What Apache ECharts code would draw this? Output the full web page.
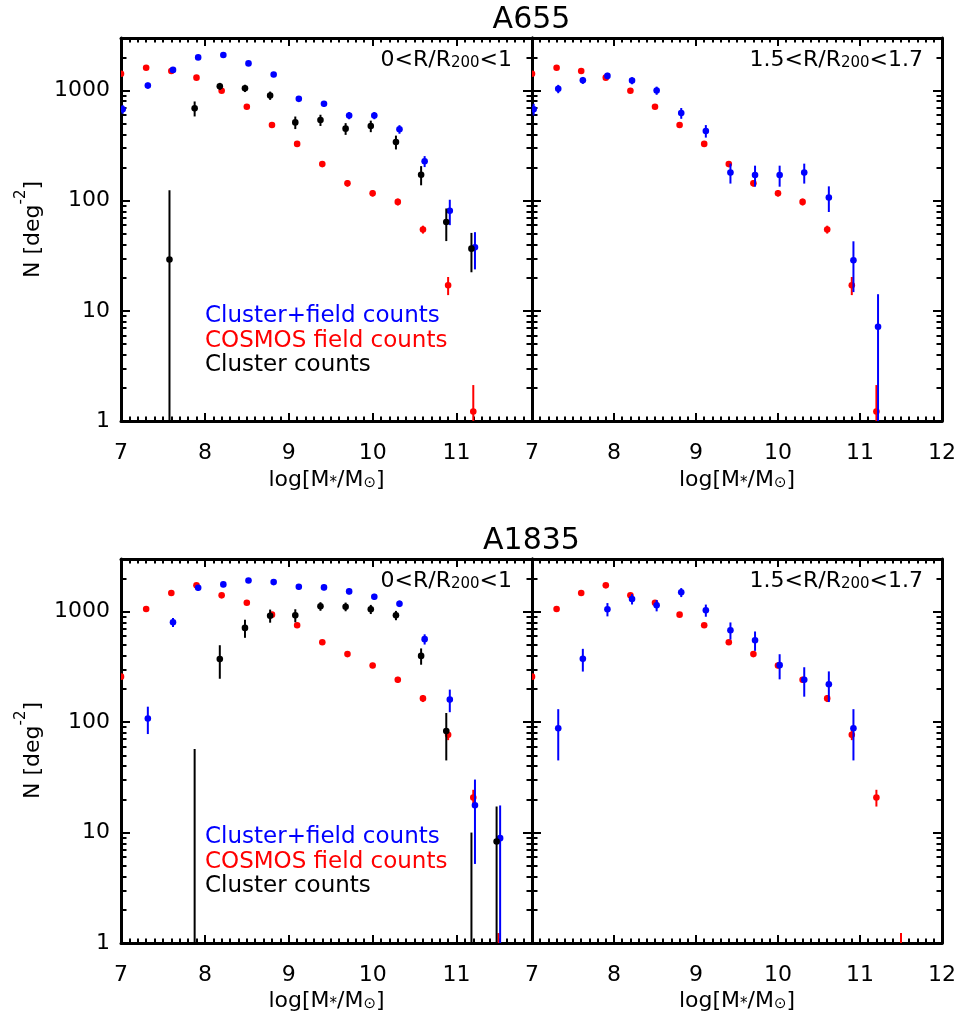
<!DOCTYPE html>
<html>
<head>
<meta charset="utf-8">
<script src="https://cdn.jsdelivr.net/npm/echarts@6/dist/echarts.min.js"></script>
<style>
  html, body { margin: 0; padding: 0; background: #ffffff; }
  #chart { width: 967px; height: 1020px; }
</style>
</head>
<body>
<div id="chart"></div>
<script>
// Stellar mass bins (log M*/Msun)
const massBins = [7.0, 7.3, 7.6, 7.9, 8.2, 8.5, 8.8, 9.1, 9.4, 9.7, 10.0, 10.3, 10.6, 10.9, 11.2, 11.5];

// Tick labels
const xTickLabelsLeft = [7, 8, 9, 10, 11];
const xTickLabelsRight = [7, 8, 9, 10, 11, 12];
const yTickLabels = [1, 10, 100, 1000];

// A655 -- COSMOS field counts (deg^-2)
const a655Field = [1420, 1610, 1505, 1310, 995, 712, 486, 328, 215, 144, 117, 97.5, 54.8, 17.1, 1.22, null];
const a655FieldErr = [40, 42, 40, 36, 30, 25, 20, 16, 12, 10, 8, 7, 4.5, 3.2, 0.9, null];
// A655 -- 0 < R/R200 < 1
const a655InnerTotal = [676, 1110, 1540, 2000, 2100, 1765, 1400, 841, 758, 594, 594, 445, 228, 81, 37.8, null];
const a655InnerTotalErr = [60, 70, 80, 95, 95, 85, 75, 46, 45, 45, 45, 40, 26, 21, 14, null];
const a655InnerCluster = [null, null, 29.3, 689, 1094, 1049, 901, 514, 540, 451, 476, 341, 172, 64, 36.7, null];
const a655InnerClusterErr = [null, null, 95, 107, 80, 80, 78, 67, 63, 55, 57, 49, 34, 21, 14.3, null];
// A655 -- 1.5 < R/R200 < 1.7
const a655OuterTotal = [676, 1036, 1239, 1358, 1231, 1000, 624, 430, 180, 171, 171, 180, 107, 28.8, 7.16, null];
const a655OuterTotalErr = [82, 90, 90, 90, 90, 85, 70, 56, 37, 37, 37, 37, 28, 14, 7, null];

// A1835 -- COSMOS field counts (deg^-2)
const a1835Field = [258, 1058, 1475, 1731, 1406, 1205, 940, 753, 529, 413, 326, 242, 164, 76.7, 20.8, 0.6];
const a1835FieldErr = [15, 35, 40, 45, 40, 36, 32, 28, 23, 20, 18, 15, 12, 8, 3.6, 0.63];
// A1835 -- 0 < R/R200 < 1
const a1835InnerTotal = [null, 108, 802, 1648, 1767, 1919, 1854, 1682, 1660, 1527, 1366, 1181, 564, 160, 17.7, 8.9];
const a1835InnerTotalErr = [null, 30, 75, 100, 100, 100, 100, 95, 95, 90, 85, 80, 60, 37, 12.5, 8.7];
const a1835InnerCluster = [null, null, null, -83, 372, 713, 920, 927, 1119, 1109, 1052, 927, 398, 83, -3, 8.3];
const a1835InnerClusterErr = [null, null, null, 140, 125, 133, 125, 125, 100, 100, 100, 90, 67, 38, 13, 8.9];
// A1835 -- 1.5 < R/R200 < 1.7
const a1835OuterTotal = [null, 88, 374, 1052, 1302, 1142, 1496, 1030, 679, 552, 328, 242, 220, 88, null, null];
const a1835OuterTotalErr = [null, 43, 87, 145, 140, 135, 140, 130, 120, 110, 84, 72, 68, 43, null, null];

// ---------------------------------------------------------------------
const FONT = 'DejaVu Sans';
const BLUE = '#0000ff', RED = '#ff0000', BLACK = '#000000';
const DX_TOTAL = 0.02;     // small horizontal shift so overlapping series stay visible
const DX_CLUSTER = -0.022;
const Y_MIN = 1, Y_MAX = 3000;
const LOG_MAX = Math.log10(Y_MAX);

function rows(values, errors, dx) {
  const out = [];
  massBins.forEach((m, i) => {
    if (values[i] !== null) out.push([m + dx, values[i], errors[i]]);
  });
  return out;
}

// error bar plus filled dot; negative counts only show the part of the bar above zero
function errorDot(color) {
  return function (params, api) {
    const x = api.value(0), n = api.value(1), e = api.value(2);
    const hi = n + e;
    if (!(hi > 0)) return null;
    const lo = n - e > 0 ? n - e : 0.05;
    const pHi = api.coord([x, hi]);
    const pLo = api.coord([x, lo]);
    const children = [{
      type: 'line',
      shape: { x1: pHi[0], y1: pHi[1], x2: pLo[0], y2: pLo[1] },
      style: { stroke: color, lineWidth: 2 }
    }];
    if (n > 0) {
      const p = api.coord([x, n]);
      children.push({ type: 'circle', shape: { cx: p[0], cy: p[1], r: 3.3 }, style: { fill: color } });
    }
    return { type: 'group', children: children };
  };
}

const grids = [
  { left: 121, top: 38, width: 411, height: 383 },
  { left: 532, top: 38, width: 410, height: 383 },
  { left: 121, top: 559, width: 411, height: 384 },
  { left: 532, top: 559, width: 410, height: 384 }
];

const axisLineStyle = { color: BLACK, width: 3 };
const tickLineStyle = { color: BLACK, width: 2 };

function minorX(max) {
  const v = [];
  for (let k = 71; k <= Math.round(max * 10); k++) if (k % 10 !== 0) v.push(k / 10);
  return v;
}
const minorY = [];
yTickLabels.forEach(dec => {
  for (let m = 2; m <= 9; m++) if (m * dec < Y_MAX) minorY.push(Math.log10(m * dec));
});

function xAxesFor(gi, max, labels) {
  const common = { gridIndex: gi, type: 'value', min: 7, max: max, splitLine: { show: false } };
  const minor = minorX(max);
  const major = (pos, showLabel) => Object.assign({}, common, {
    position: pos,
    axisLine: { show: true, onZero: false, lineStyle: axisLineStyle },
    axisTick: { show: true, inside: true, length: 8, customValues: labels, lineStyle: tickLineStyle },
    axisLabel: showLabel ? {
      show: true, customValues: labels, margin: 21, color: BLACK,
      fontFamily: FONT, fontSize: 22
    } : { show: false }
  });
  const small = pos => Object.assign({}, common, {
    position: pos,
    axisLine: { show: false, onZero: false },
    axisTick: { show: true, inside: true, length: 4.5, customValues: minor, lineStyle: tickLineStyle },
    axisLabel: { show: false }
  });
  return [major('bottom', true), small('bottom'), major('top', false), small('top')];
}

function yAxesFor(gi, showLabels) {
  const major = (pos, showLabel) => ({
    gridIndex: gi, type: 'log', logBase: 10, min: Y_MIN, max: Y_MAX, position: pos,
    splitLine: { show: false },
    axisLine: { show: true, onZero: false, lineStyle: axisLineStyle },
    axisTick: { show: true, inside: true, length: 9, lineStyle: tickLineStyle },
    axisLabel: showLabel ? {
      show: true, margin: 11, color: BLACK, fontFamily: FONT, fontSize: 22,
      showMinLabel: true, showMaxLabel: false,
      formatter: v => {
        const r = Math.round(v);
        return yTickLabels.indexOf(r) >= 0 ? String(r) : '';
      }
    } : { show: false }
  });
  const small = pos => ({
    gridIndex: gi, type: 'value', min: 0, max: LOG_MAX, position: pos,
    splitLine: { show: false },
    axisLine: { show: false, onZero: false },
    axisTick: { show: true, inside: true, length: 5.5, customValues: minorY, lineStyle: tickLineStyle },
    axisLabel: { show: false }
  });
  return [major('left', showLabels), small('left'), major('right', false), small('right')];
}

const panels = [
  { max: 11.9, labels: xTickLabelsLeft, yLabels: true,
    field: [a655Field, a655FieldErr], total: [a655InnerTotal, a655InnerTotalErr], cluster: [a655InnerCluster, a655InnerClusterErr] },
  { max: 12, labels: xTickLabelsRight, yLabels: false,
    field: [a655Field, a655FieldErr], total: [a655OuterTotal, a655OuterTotalErr], cluster: null },
  { max: 11.9, labels: xTickLabelsLeft, yLabels: true,
    field: [a1835Field, a1835FieldErr], total: [a1835InnerTotal, a1835InnerTotalErr], cluster: [a1835InnerCluster, a1835InnerClusterErr] },
  { max: 12, labels: xTickLabelsRight, yLabels: false,
    field: [a1835Field, a1835FieldErr], total: [a1835OuterTotal, a1835OuterTotalErr], cluster: null }
];

const xAxis = [], yAxis = [], series = [];
panels.forEach((p, gi) => {
  xAxis.push(...xAxesFor(gi, p.max, p.labels));
  yAxis.push(...yAxesFor(gi, p.yLabels));
  const base = { type: 'custom', xAxisIndex: gi * 4, yAxisIndex: gi * 4, clip: true,
                 encode: { x: 0, y: 1 }, animation: false };
  series.push(Object.assign({}, base, { name: 'COSMOS field counts', renderItem: errorDot(RED),
    data: rows(p.field[0], p.field[1], 0) }));
  series.push(Object.assign({}, base, { name: 'Cluster+field counts', renderItem: errorDot(BLUE),
    data: rows(p.total[0], p.total[1], DX_TOTAL) }));
  if (p.cluster) {
    series.push(Object.assign({}, base, { name: 'Cluster counts', renderItem: errorDot(BLACK),
      data: rows(p.cluster[0], p.cluster[1], DX_CLUSTER) }));
  }
});

// ---------------------------------------------------------------------
// text overlays
function txt(x, y, text, opts) {
  opts = opts || {};
  return {
    type: 'text', x: x, y: y, rotation: opts.rotation || 0, z: 100,
    style: {
      text: text, fill: opts.color || BLACK,
      fontFamily: FONT, fontSize: opts.size || 22,
      align: opts.align || 'left', verticalAlign: 'middle',
      rich: opts.rich || {}
    }
  };
}
const subRich = {
  sub: { fontFamily: FONT, fontSize: 15, lineHeight: 14, padding: [16, 0, 0, 0], verticalAlign: 'bottom' },
  m: { fontFamily: FONT, fontSize: 22, lineHeight: 22, verticalAlign: 'top' }
};
const supRich = {
  sup: { fontFamily: FONT, fontSize: 15, lineHeight: 14, verticalAlign: 'top' },
  m: { fontFamily: FONT, fontSize: 22, lineHeight: 30, verticalAlign: 'bottom' }
};

const graphic = [];
const rowOffset = [0, 521];
['A655', 'A1835'].forEach((name, r) => {
  const dy = rowOffset[r];
  graphic.push(txt(531.5, 20 + dy, name, { size: 30, align: 'center' }));
  graphic.push(txt(512, 60 + dy, '{m|0<R/R}{sub|200}{m|<1}', { align: 'right', rich: subRich }));
  graphic.push(txt(923, 60 + dy, '{m|1.5<R/R}{sub|200}{m|<1.7}', { align: 'right', rich: subRich }));
  graphic.push(txt(205, 316 + dy, 'Cluster+field counts', { color: BLUE, size: 23 }));
  graphic.push(txt(205, 341 + dy, 'COSMOS field counts', { color: RED, size: 23 }));
  graphic.push(txt(205, 365 + dy, 'Cluster counts', { color: BLACK, size: 23 }));
  graphic.push(txt(29, 229.5 + dy, '{m|N [deg}{sup|-2}{m|]}', { rotation: Math.PI / 2, align: 'center', rich: supRich }));
  graphic.push(txt(326.5, 480 + dy, '{m|log[M}{sub|*}{m|/M}{sub|⊙}{m|]}', { align: 'center', rich: subRich }));
  graphic.push(txt(737, 480 + dy, '{m|log[M}{sub|*}{m|/M}{sub|⊙}{m|]}', { align: 'center', rich: subRich }));
});

const chart = echarts.init(document.getElementById('chart'), null, { renderer: 'canvas' });
chart.setOption({
  backgroundColor: '#ffffff',
  animation: false,
  grid: grids.map(g => Object.assign({ containLabel: false, outerBoundsMode: 'none' }, g)),
  xAxis: xAxis,
  yAxis: yAxis,
  series: series,
  graphic: graphic
});
</script>
</body>
</html>
